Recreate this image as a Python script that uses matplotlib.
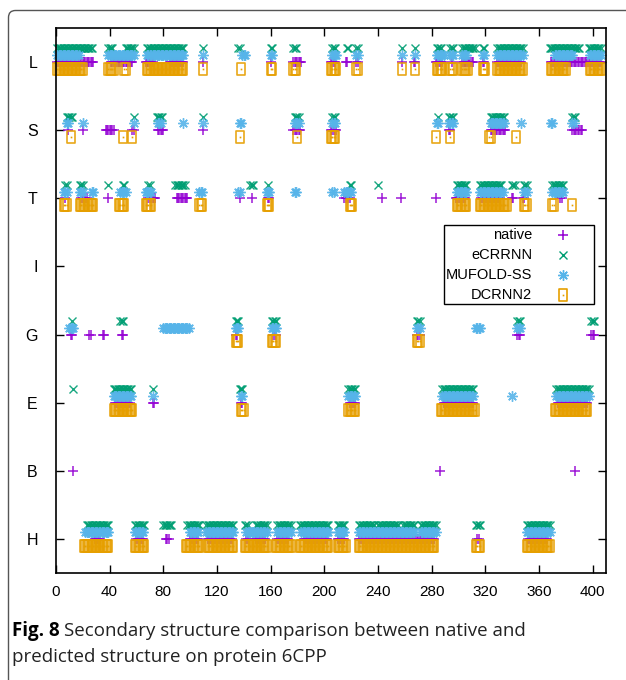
import matplotlib
matplotlib.use("Agg")
import matplotlib.pyplot as plt
from matplotlib.path import Path
from matplotlib.patches import PathPatch, Rectangle
from matplotlib.transforms import IdentityTransform
from matplotlib.lines import Line2D

# ---------------- data ----------------
states = ["H", "B", "E", "G", "I", "T", "S", "L"]
xticks = [0, 40, 80, 120, 160, 200, 240, 280, 320, 360, 400]
series_names = ["native", "eCRRNN", "MUFOLD-SS", "DCRNN2"]

# residue segments (start, end inclusive) per state
native = {
    "H": [(29, 33), (60, 65), (82, 84), (100, 106), (113, 131), (142, 143), (149, 156), (165, 173),
          (185, 202), (210, 215), (226, 282), (314, 315), (352, 366)],
    "B": [(13, 13), (286, 286), (387, 387)],
    "E": [(44, 55), (72, 73), (138, 139), (219, 223), (289, 311), (374, 396)],
    "G": [(11, 12), (25, 26), (35, 36), (49, 50), (134, 135), (162, 164), (269, 271), (344, 346), (399, 401)],
    "I": [],
    "T": [(7, 7), (19, 23), (39, 39), (69, 74), (90, 98), (137, 137), (146, 146), (158, 159),
          (215, 219), (243, 243), (257, 257), (283, 283), (298, 305), (317, 331), (340, 341), (348, 349), (376, 377)],
    "S": [(9, 9), (20, 20), (37, 43), (57, 58), (76, 80), (110, 110), (177, 182), (205, 209),
          (293, 294), (324, 335), (385, 392)],
    "L": [(1, 28), (41, 57), (67, 72), (85, 95), (110, 110), (160, 160), (177, 183), (205, 208),
          (216, 217), (224, 225), (258, 258), (267, 268), (283, 288), (295, 295), (303, 311), (318, 319),
          (329, 347), (369, 406)],
}
ecrrnn = {
    "H": [(23, 39), (59, 66), (80, 86), (98, 107), (112, 132), (141, 143), (149, 157), (165, 175), (182, 203),
          (210, 215), (226, 237), (240, 255), (259, 267), (272, 283), (313, 316), (351, 368)],
    "B": [],
    "E": [(13, 13), (43, 56), (72, 72), (137, 139), (218, 223), (288, 311), (373, 397)],
    "G": [(12, 12), (48, 50), (134, 136), (161, 164), (269, 271), (344, 346), (399, 401)],
    "I": [],
    "T": [(7, 8), (18, 20), (39, 39), (50, 51), (69, 70), (89, 96), (145, 147), (158, 158),
          (219, 220), (240, 240), (299, 306), (316, 332), (340, 342), (349, 351), (370, 378)],
    "S": [(8, 12), (58, 58), (75, 79), (110, 110), (178, 181), (206, 208), (285, 285), (293, 296),
          (324, 334), (385, 387)],
    "L": [(1, 27), (39, 42), (52, 58), (68, 95), (110, 110), (136, 137), (160, 161), (177, 179), (206, 208),
          (217, 218), (224, 225), (258, 258), (268, 268), (284, 287), (294, 296), (303, 312), (318, 319),
          (329, 348), (368, 390), (397, 406)],
}
mufold = {
    "H": [(22, 39), (59, 65), (100, 106), (112, 132), (142, 157), (165, 175), (183, 203),
          (210, 215), (226, 267), (272, 283), (351, 368)],
    "B": [],
    "E": [(43, 56), (72, 72), (138, 139), (218, 223), (288, 311), (340, 340), (373, 397)],
    "G": [(10, 13), (80, 99), (134, 136), (161, 164), (269, 271), (313, 316), (344, 346)],
    "I": [],
    "T": [(6, 8), (18, 20), (27, 28), (48, 52), (67, 71), (107, 109), (136, 137), (157, 159), (178, 179),
          (206, 207), (215, 220), (299, 306), (316, 333), (349, 351), (370, 378)],
    "S": [(8, 9), (20, 20), (58, 58), (76, 78), (95, 95), (110, 110), (137, 138), (178, 181), (206, 208),
          (284, 285), (293, 296), (324, 334), (347, 347), (369, 370), (385, 386)],
    "L": [(1, 17), (39, 58), (68, 95), (110, 110), (139, 141), (160, 161), (206, 209), (224, 225),
          (258, 258), (268, 268), (284, 289), (294, 296), (303, 306), (318, 319), (329, 348),
          (372, 385), (398, 406)],
}
dcrnn2 = {
    "H": [(21, 39), (59, 66), (97, 107), (113, 132), (141, 157), (164, 175), (182, 203), (210, 216),
          (226, 282), (313, 316), (351, 368)],
    "B": [],
    "E": [(43, 57), (138, 140), (218, 223), (287, 312), (372, 396)],
    "G": [(134, 136), (161, 164), (269, 271)],
    "I": [],
    "T": [(6, 8), (18, 28), (47, 51), (67, 71), (107, 109), (157, 159), (219, 221), (299, 306),
          (316, 336), (349, 351), (370, 371), (385, 385)],
    "S": [(11, 11), (50, 50), (57, 57), (137, 137), (180, 180), (205, 208), (283, 283), (294, 294),
          (323, 324), (343, 343)],
    "L": [(1, 20), (39, 43), (51, 52), (68, 95), (110, 110), (138, 138), (160, 161), (177, 179),
          (205, 209), (224, 225), (258, 258), (268, 268), (284, 288), (294, 296), (303, 307),
          (318, 320), (329, 348), (369, 380), (398, 406)],
}

# ---------------- style ----------------
plt.rcParams["font.family"] = ["Liberation Sans", "DejaVu Sans"]

col = {"native": "#9400d3", "eCRRNN": "#009e73", "MUFOLD-SS": "#56b4e9", "DCRNN2": "#e69f00"}
offset = {"native": 0.0, "eCRRNN": 0.2, "MUFOLD-SS": 0.1, "DCRNN2": -0.1}

rect = Path([(-0.36, -0.5), (0.36, -0.5), (0.36, 0.5), (-0.36, 0.5), (-0.36, -0.5)],
            [Path.MOVETO, Path.LINETO, Path.LINETO, Path.LINETO, Path.CLOSEPOLY])
star = (8, 2, 0)

mstyle = {
    "native": dict(marker="+", markersize=6.5, mew=1.1),
    "eCRRNN": dict(marker="x", markersize=5.5, mew=1.0),
    "MUFOLD-SS": dict(marker=star, markersize=7.5, mew=1.0),
    "DCRNN2": dict(marker=rect, markersize=8, mew=1.2, mfc="none"),
}

W, H = 626, 680
fig = plt.figure(figsize=(W / 100, H / 100), dpi=100)
ax = fig.add_axes([55.9 / W, 1 - 573 / H, (606 - 55.9) / W, (573 - 28) / H])


def expand(segs):
    xs = []
    for a, b in segs:
        xs.extend(range(a, b + 1))
    return xs


for name, data in zip(series_names, [native, ecrrnn, mufold, dcrnn2]):
    for i, s in enumerate(states):
        xs = expand(data[s])
        if not xs:
            continue
        ys = [i + offset[name]] * len(xs)
        ax.plot(xs, ys, ls="none", color=col[name], clip_on=False, alpha=0.9, **mstyle[name])
        if name == "DCRNN2":
            ax.plot(xs, ys, ls="none", marker="s", markersize=1.2, color=col[name], mew=0, clip_on=False)

ax.set_xlim(0, 410)
ax.set_ylim(-0.5, 7.5)
ax.set_xticks(xticks)
ax.set_xticklabels([str(t) for t in xticks], fontsize=11)
ax.set_yticks(range(len(states)))
ax.set_yticklabels(states, fontsize=11.5)
ax.tick_params(direction="in", length=6, width=1, top=True, right=True, pad=9, colors="black")
ax.tick_params(axis="y", pad=13)
for sp in ax.spines.values():
    sp.set_linewidth(1.2)

# legend (gnuplot style: text right aligned, sample on the right)
ax.add_patch(Rectangle((0.7055, 0.4936), 0.9775 - 0.7055, 0.6385 - 0.4936, transform=ax.transAxes,
                       fill=False, lw=1.0, ec="black", zorder=5))
ly = [0.6202, 0.5835, 0.5468, 0.5101]
for name, yy in zip(series_names, ly):
    ax.text(0.866, yy, name, transform=ax.transAxes, ha="right", va="center", fontsize=10.5, zorder=6)
    ax.add_line(Line2D([0.9217], [yy], transform=ax.transAxes, ls="none", color=col[name],
                       zorder=6, **mstyle[name]))
    if name == "DCRNN2":
        ax.add_line(Line2D([0.9217], [yy], transform=ax.transAxes, ls="none", marker="s",
                           markersize=1.2, mew=0, color=col[name], zorder=6))

# figure frame: only left and top edges with a rounded top-left corner
top = H - 10.5
fx = 8.5
r = 7
frame_path = Path([(fx, -5), (fx, top - r), (fx, top), (fx + r, top), (W + 5, top)],
                  [Path.MOVETO, Path.LINETO, Path.CURVE3, Path.CURVE3, Path.LINETO])
fig.add_artist(PathPatch(frame_path, transform=IdentityTransform(), fill=False, ec="#555555", lw=1.0))

# caption
cap_font = ["Open Sans", "DejaVu Sans"]
t1 = fig.text(12 / W, 1 - 631 / H, "Fig. 8", fontsize=13.5, fontweight="bold", family=cap_font, va="center")
fig.canvas.draw()
bb = t1.get_window_extent()
fig.text((bb.x1 + 4) / W, 1 - 631 / H, "Secondary structure comparison between native and",
         fontsize=13.5, family=cap_font, va="center", color="#222222")
fig.text(12 / W, 1 - 657 / H, "predicted structure on protein 6CPP", fontsize=13.5, family=cap_font,
         va="center", color="#222222")

fig.savefig("out.png", dpi=100)
